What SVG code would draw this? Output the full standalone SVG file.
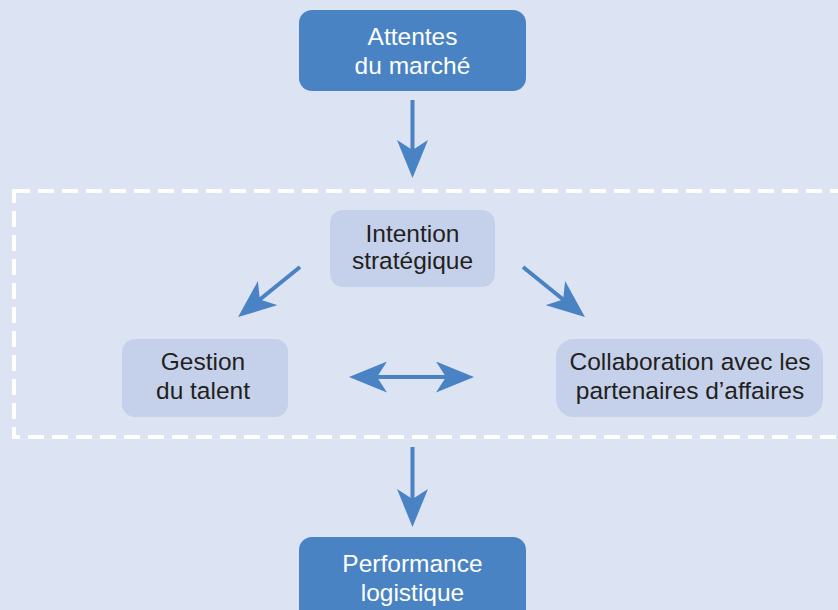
<svg xmlns="http://www.w3.org/2000/svg" width="838" height="610" viewBox="0 0 838 610">
  <style>
    .bg { fill: #dce3f2; }
    .main rect { fill: #4a83c4; }
    .main text { fill: #ffffff; }
    .sub rect { fill: #c5d1eb; }
    .sub text { fill: #231f20; }
    text { font-family: "Liberation Sans", Arial, sans-serif; font-size: 24.5px; text-anchor: middle; }
    .frame { fill: none; stroke: #ffffff; stroke-width: 4; stroke-dasharray: 16 8; }
    .link { fill: none; stroke: #4a83c4; stroke-width: 4; }
  </style>
  <defs>
    <marker id="head" markerUnits="userSpaceOnUse" viewBox="0 0 38 31" markerWidth="38" markerHeight="31" refX="12" refY="15.5" orient="auto-start-reverse">
      <path d="M0,0 L38,15.5 L0,31 L10,15.5 Z" fill="#4a83c4"/>
    </marker>
  </defs>

  <rect class="bg" x="0" y="0" width="838" height="610"/>

  <!-- dashed boundary around the inner system -->
  <rect class="frame" x="14" y="191" width="840" height="246"/>

  <g id="connectors">
    <line class="link" x1="412.5" y1="100" x2="412.5" y2="152" marker-end="url(#head)"/>
    <line class="link" x1="300" y1="267" x2="258.3" y2="300.7" marker-end="url(#head)"/>
    <line class="link" x1="523" y1="267" x2="564.7" y2="300.7" marker-end="url(#head)"/>
    <line class="link" x1="375" y1="377" x2="448" y2="377" stroke-width="3.5" marker-start="url(#head)" marker-end="url(#head)"/>
    <line class="link" x1="412.5" y1="447" x2="412.5" y2="501" marker-end="url(#head)"/>
  </g>

  <g id="attentes" class="main">
    <rect x="299" y="10" width="227" height="81" rx="13"/>
    <text x="412.5" y="45">Attentes</text>
    <text x="412.5" y="74">du marché</text>
  </g>

  <g id="intention" class="sub">
    <rect x="330" y="210" width="165" height="77" rx="13"/>
    <text x="412.5" y="242">Intention</text>
    <text x="412.5" y="269">stratégique</text>
  </g>

  <g id="talent" class="sub">
    <rect x="122" y="339" width="166" height="78" rx="13"/>
    <text x="203" y="370">Gestion</text>
    <text x="203" y="399">du talent</text>
  </g>

  <g id="collaboration" class="sub">
    <rect x="556" y="339" width="267" height="78" rx="18"/>
    <text x="690" y="370">Collaboration avec les</text>
    <text x="690" y="399">partenaires d’affaires</text>
  </g>

  <g id="performance" class="main">
    <rect x="299" y="537" width="227" height="90" rx="13"/>
    <text x="412.5" y="572">Performance</text>
    <text x="412.5" y="601">logistique</text>
  </g>
</svg>
